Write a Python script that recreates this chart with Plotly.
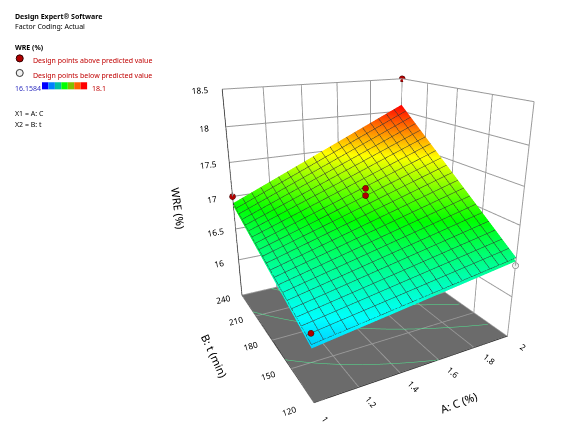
import plotly.graph_objects as go

A_vals = [1.0, 1.25, 1.5, 1.75, 2.0]
B_vals = [120, 150, 180, 210, 240]
WRE = [
    [16.16, 16.26, 16.36, 16.46, 16.56],
    [16.345, 16.495, 16.645, 16.795, 16.945],
    [16.53, 16.73, 16.93, 17.13, 17.33],
    [16.715, 16.965, 17.215, 17.465, 17.715],
    [16.90, 17.20, 17.50, 17.80, 18.10],
]
pts_above_A = [1.0, 1.5, 1.5, 2.0, 1.0]
pts_above_B = [240, 180, 180, 240, 120]
pts_above_Z = [17.0, 17.2, 17.3, 18.5, 16.3]
pts_below_A = [2.0]
pts_below_B = [120]
pts_below_Z = [16.45]

cs = [[0, "#0000ff"], [0.25, "#00ffff"], [0.5, "#00ff00"], [0.75, "#ffff00"], [1, "#ff0000"]]

fig = go.Figure()
# copy just under the surface, used only to project contour lines onto the floor
fig.add_trace(go.Surface(
    x=A_vals, y=B_vals, z=[[v - 0.05 for v in row] for row in WRE],
    surfacecolor=WRE, colorscale=cs, cmin=15.65, cmax=18.1, showscale=False,
    lighting=dict(ambient=0.95, diffuse=0.2, specular=0.0),
    contours=dict(z=dict(show=True, start=16.35, end=17.8, size=0.35, usecolormap=False,
                         color="#50e890", project=dict(z=True), width=2)),
    hoverinfo="skip",
))
fig.add_trace(go.Surface(
    x=A_vals, y=B_vals, z=WRE, colorscale=cs, cmin=15.65, cmax=18.1, showscale=False,
    lighting=dict(ambient=0.95, diffuse=0.2, specular=0.0),
    contours=dict(
        x=dict(show=True, start=1, end=2, size=0.05, color="#333333", width=1),
        y=dict(show=True, start=120, end=240, size=6, color="#333333", width=1),
    ),
    hoverinfo="skip",
))
fig.add_trace(go.Scatter3d(x=pts_above_A, y=pts_above_B, z=pts_above_Z, mode="markers",
    marker=dict(size=3.5, color="#b00000", line=dict(color="#400000", width=1))))
fig.add_trace(go.Scatter3d(x=pts_below_A, y=pts_below_B, z=pts_below_Z, mode="markers",
    marker=dict(size=3.5, color="#f0f0f0", line=dict(color="#555555", width=1))))

ax = dict(showbackground=True, backgroundcolor="white", gridcolor="#999999",
          linecolor="black", showline=True, tickfont=dict(size=10, color="black"),
          showspikes=False, zeroline=False)
fig.update_layout(
    width=586, height=442, margin=dict(l=0, r=0, t=0, b=0), showlegend=False,
    paper_bgcolor="white", font=dict(family="Noto Sans", size=11, color="black"),
    scene=dict(
        domain=dict(x=[0.22, 1.0], y=[0.0, 1.0]),
        xaxis=dict(ax, title=dict(text="A: C (%)", font=dict(size=11)), range=[1, 2], tickvals=[1, 1.2, 1.4, 1.6, 1.8, 2]),
        yaxis=dict(ax, title=dict(text="B: t (min)", font=dict(size=11)), range=[120, 240], tickvals=[120, 150, 180, 210, 240]),
        zaxis=dict(ax, title=dict(text="WRE (%)", font=dict(size=11)), range=[15.4, 18.5], backgroundcolor="#6b6b6b",
                   tickvals=[16, 16.5, 17, 17.5, 18, 18.5]),
        aspectmode="manual", aspectratio=dict(x=1, y=1, z=1.1),
        camera=dict(eye=dict(x=-1.13, y=-2.1, z=0.86), center=dict(x=0.0, y=0, z=-0.08)),
    ),
)
ann = [
    (0.008, 0.995, "<b>Design Expert® Software</b>", "black"),
    (0.008, 0.972, "Factor Coding: Actual", "black"),
    (0.008, 0.925, "<b>WRE (%)</b>", "black"),
    (0.04, 0.895, "Design points above predicted value", "#c00000"),
    (0.04, 0.862, "Design points below predicted value", "#c00000"),
    (0.008, 0.832, "16.1584", "#3030c0"),
    (0.14, 0.832, "18.1", "#c00000"),
    (0.008, 0.775, "X1 = A: C", "black"),
    (0.008, 0.752, "X2 = B: t", "black"),
]
for x, y, t, c in ann:
    fig.add_annotation(xref="paper", yref="paper", x=x, y=y, text=t, showarrow=False,
                       xanchor="left", yanchor="top", font=dict(size=7, color=c))
fig.add_shape(type="circle", xref="paper", yref="paper", x0=0.014, x1=0.026, y0=0.878, y1=0.894,
              fillcolor="#b00000", line=dict(color="#300000", width=1))
fig.add_shape(type="circle", xref="paper", yref="paper", x0=0.014, x1=0.026, y0=0.845, y1=0.861,
              fillcolor="#f0f0f0", line=dict(color="#333333", width=1))
for i, c in enumerate(["#0000ff", "#0080ff", "#00c0a0", "#00ff00", "#80c000", "#ff6000", "#ff0000"]):
    fig.add_shape(type="rect", xref="paper", yref="paper", x0=0.058 + i*0.011, x1=0.069 + i*0.011,
                  y0=0.816, y1=0.832, fillcolor=c, line=dict(width=0))
fig.write_html("out.html")
